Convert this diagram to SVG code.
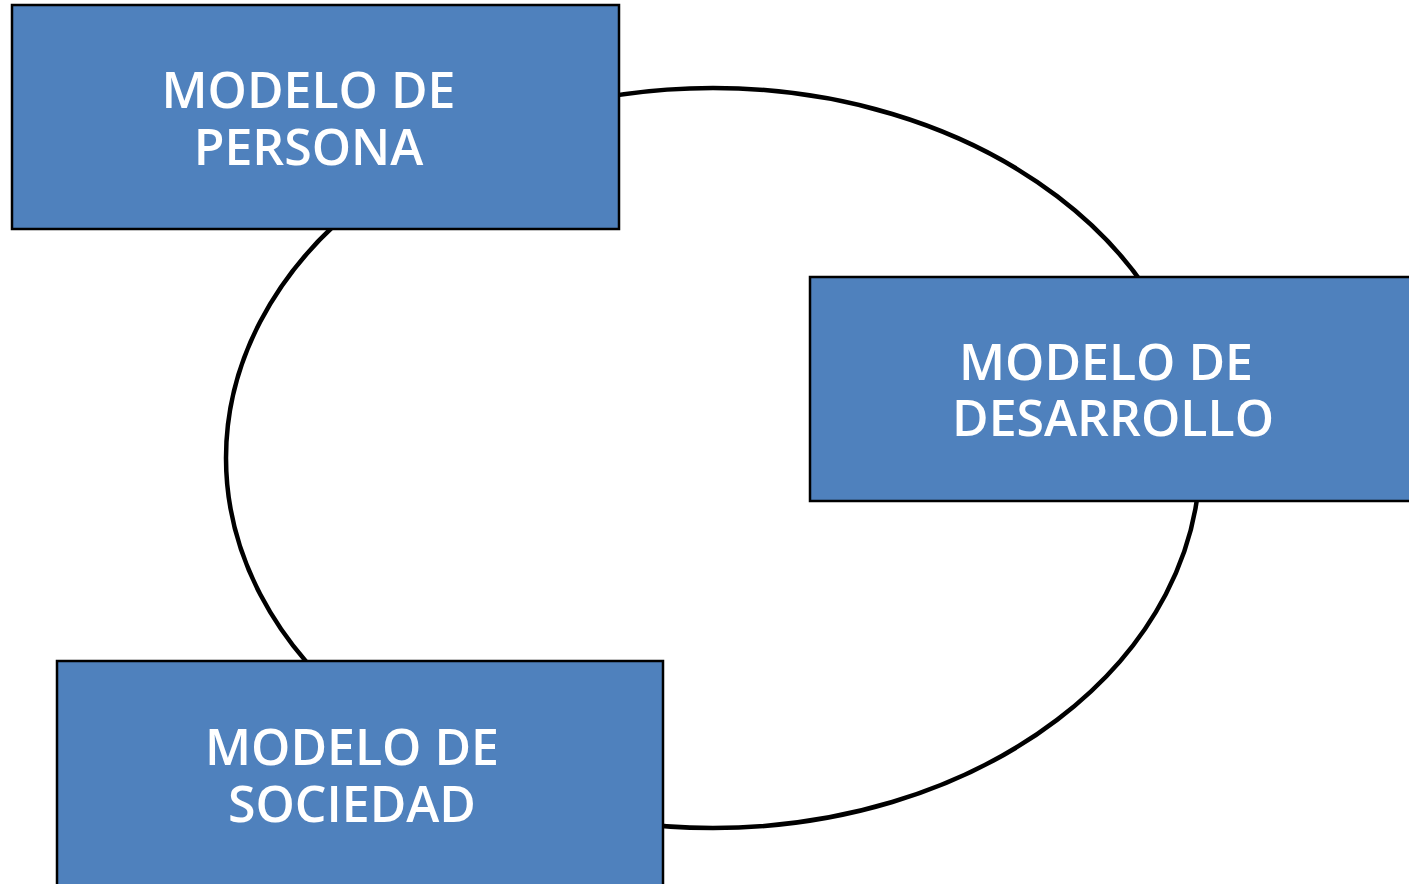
<svg xmlns="http://www.w3.org/2000/svg" width="1409" height="884" viewBox="0 0 1409 884">
<style>
.box{fill:#4F81BD;stroke:#000;stroke-width:2.5}
.lbl{font-family:"Open Sans","Noto Sans",sans-serif;font-weight:600;font-size:50px;fill:#fff;text-anchor:middle}
.ring{fill:none;stroke:#000;stroke-width:4.5}
</style>
<rect width="1409" height="884" fill="#fff"/>
<g id="connectors">
<ellipse class="ring" cx="713" cy="458" rx="487" ry="370"/>
</g>
<g id="persona">
<rect class="box" x="12" y="5" width="607" height="224"/>
<text class="lbl" x="308.5" y="108">MODELO DE</text>
<text class="lbl" x="308.5" y="165">PERSONA</text>
</g>
<g id="desarrollo">
<rect class="box" x="810" y="277" width="607" height="224"/>
<text class="lbl" x="1106" y="380">MODELO DE</text>
<text class="lbl" x="1113" y="436">DESARROLLO</text>
</g>
<g id="sociedad">
<rect class="box" x="57" y="661" width="606" height="240"/>
<text class="lbl" x="352" y="765">MODELO DE</text>
<text class="lbl" x="352" y="822">SOCIEDAD</text>
</g>
</svg>
